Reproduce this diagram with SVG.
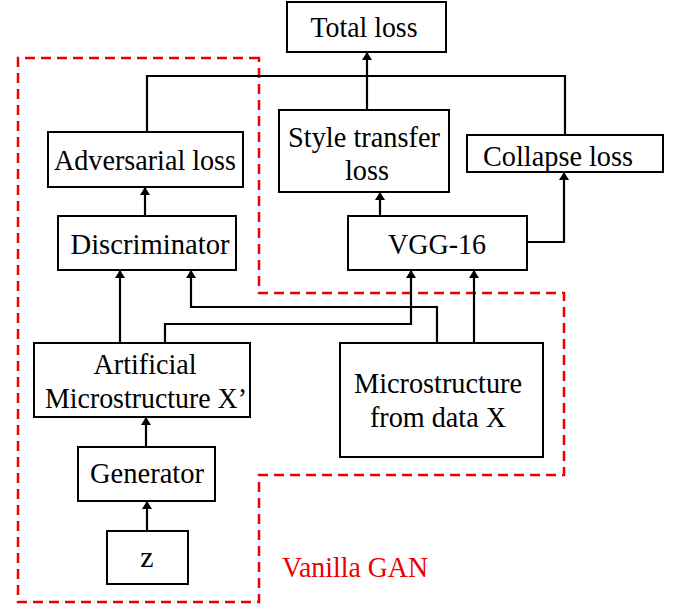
<svg xmlns="http://www.w3.org/2000/svg" width="676" height="607" viewBox="0 0 676 607">
<style>
.box{fill:#fff;stroke:#000;stroke-width:2}
.t{font-family:"Liberation Serif","Times New Roman",serif;font-size:30px;fill:#000;text-anchor:middle}
.c{fill:none;stroke:#000;stroke-width:2.2}
.a{fill:none;stroke:#000;stroke-width:2.2;marker-end:url(#ah)}
.red{fill:none;stroke:#e00;stroke-width:2.5;stroke-dasharray:10,6}
</style>
<defs>
<marker id="ah" markerWidth="8" markerHeight="10" refX="8" refY="5" orient="auto" markerUnits="userSpaceOnUse">
<path d="M0,0 L8,5 L0,10 z" fill="#000"/>
</marker>
</defs>
<rect width="676" height="607" fill="#fff"/>
<path class="red" d="M259,58 L18,58 L18,602 L259,602 L259,475 L564,475 L564,293 L259,293 Z"/>
<g id="connectors">
<path class="c" d="M147,132 L147,76 L565,76 L565,135"/>
<path class="a" d="M367,110 L367,52"/>
<path class="a" d="M145,216 L145,187"/>
<path class="a" d="M380,216 L380,192"/>
<path class="a" d="M527,242 L564,242 L564,172"/>
<path class="a" d="M120,343 L120,270"/>
<path class="a" d="M437,343 L437,307 L191,307 L191,270"/>
<path class="a" d="M165,343 L165,324 L411,324 L411,270"/>
<path class="a" d="M474,343 L474,270"/>
<path class="a" d="M146,447 L146,417"/>
<path class="a" d="M147,531 L147,501"/>
</g>
<g id="total"><rect class="box" x="287" y="2" width="159" height="50"/><text class="t" x="364" y="37" textLength="107" lengthAdjust="spacingAndGlyphs">Total loss</text></g>
<g id="adv"><rect class="box" x="48" y="132" width="195" height="55"/><text class="t" x="145" y="170" textLength="182" lengthAdjust="spacingAndGlyphs">Adversarial loss</text></g>
<g id="style"><rect class="box" x="279" y="110" width="170" height="82"/><text class="t" x="364" y="147" textLength="152" lengthAdjust="spacingAndGlyphs">Style transfer</text><text class="t" x="367" y="180" textLength="44" lengthAdjust="spacingAndGlyphs">loss</text></g>
<g id="collapse"><rect class="box" x="467" y="135" width="196" height="37"/><text class="t" x="558" y="166" textLength="150" lengthAdjust="spacingAndGlyphs">Collapse loss</text></g>
<g id="disc"><rect class="box" x="58" y="216" width="178" height="54"/><text class="t" x="150" y="254" textLength="159" lengthAdjust="spacingAndGlyphs">Discriminator</text></g>
<g id="vgg"><rect class="box" x="348" y="216" width="179" height="54"/><text class="t" x="437" y="254" textLength="98" lengthAdjust="spacingAndGlyphs">VGG-16</text></g>
<g id="artificial"><rect class="box" x="34" y="343" width="216" height="74"/><text class="t" x="145" y="374" textLength="103" lengthAdjust="spacingAndGlyphs">Artificial</text><text class="t" x="146" y="408" textLength="202" lengthAdjust="spacingAndGlyphs">Microstructure X’</text></g>
<g id="data"><rect class="box" x="340" y="343" width="203" height="114"/><text class="t" x="438" y="393" textLength="168" lengthAdjust="spacingAndGlyphs">Microstructure</text><text class="t" x="438" y="427" textLength="136" lengthAdjust="spacingAndGlyphs">from data X</text></g>
<g id="gen"><rect class="box" x="78" y="447" width="137" height="54"/><text class="t" x="147" y="483" textLength="114" lengthAdjust="spacingAndGlyphs">Generator</text></g>
<g id="z"><rect class="box" x="107" y="531" width="81" height="53"/><text class="t" x="147" y="567">z</text></g>
<text class="t" x="355" y="577" textLength="146" lengthAdjust="spacingAndGlyphs" style="fill:#e00">Vanilla GAN</text>
</svg>
